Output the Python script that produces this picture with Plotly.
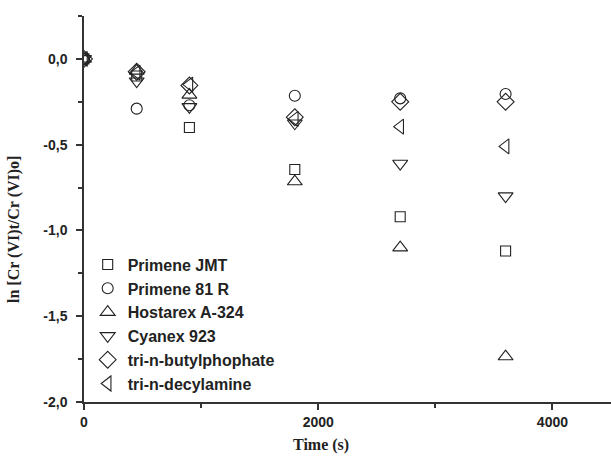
import plotly.graph_objects as go

time_s = [0, 450, 900, 1800, 2700, 3600]

series_names = ["Primene JMT", "Primene 81 R", "Hostarex A-324",
                "Cyanex 923", "tri-n-butylphophate", "tri-n-decylamine"]

primene_jmt = [0.0, -0.10, -0.40, -0.645, -0.92, -1.12]
primene_81r = [0.0, -0.29, -0.27, -0.215, -0.23, -0.205]
hostarex = [0.0, -0.07, -0.21, -0.715, -1.10, -1.735]
cyanex = [0.0, -0.13, -0.28, -0.375, -0.61, -0.80]
tbp = [0.0, -0.075, -0.155, -0.34, -0.25, -0.25]
tda = [0.0, -0.08, -0.15, -0.35, -0.395, -0.51]

series_values = [primene_jmt, primene_81r, hostarex, cyanex, tbp, tda]
symbols = ["square-open", "circle-open", "triangle-up-open",
           "triangle-down-open", "diamond-open", "triangle-left-open"]
sizes = [10, 11, 13, 13, 13, 13]

y_tickvals = [0.0, -0.5, -1.0, -1.5, -2.0]
y_ticktext = ["0,0", "-0,5", "-1,0", "-1,5", "-2,0"]
x_tickvals = [0, 2000, 4000]
x_ticktext = ["0", "2000", "4000"]

fig = go.Figure()
for name, vals, sym, sz in zip(series_names, series_values, symbols, sizes):
    fig.add_trace(go.Scatter(
        x=time_s, y=vals, mode="markers", name=name,
        marker=dict(symbol=sym, size=sz, color="#222222",
                    line=dict(width=1.1, color="#222222")),
    ))

axis_common = dict(
    showline=True, linecolor="#333333", linewidth=1.5,
    showgrid=False, zeroline=False, ticks="outside", ticklen=6,
    tickwidth=1.5, tickcolor="#333333", automargin=False,
    tickfont=dict(family="Liberation Sans, Arial, sans-serif", size=14,
                  color="#222222", weight="bold"),
)

fig.update_layout(
    width=611, height=461,
    margin=dict(l=84, r=0, t=16, b=59),
    paper_bgcolor="white", plot_bgcolor="white",
    showlegend=True,
    legend=dict(
        x=0.007, y=0.40, xanchor="left", yanchor="top",
        bgcolor="rgba(0,0,0,0)",
        font=dict(family="Liberation Sans, Arial, sans-serif", size=16,
                  color="#222222", weight="bold"),
        itemsizing="trace",
    ),
    xaxis=dict(range=[0, 4500], tickvals=x_tickvals, ticktext=x_ticktext,
               minor=dict(tickvals=[1000, 3000], ticks="outside", ticklen=4,
                          tickwidth=1.5, tickcolor="#333333"),
               **axis_common),
    yaxis=dict(range=[-2.0, 0.25], tickvals=y_tickvals, ticktext=y_ticktext,
               minor=dict(tickvals=[0.25, -0.25, -0.75, -1.25, -1.75],
                          ticks="outside", ticklen=4, tickwidth=1.5,
                          tickcolor="#333333"),
               ticklabelstandoff=6,
               **axis_common),
    annotations=[
        dict(text="<b>Time (s)</b>", xref="paper", yref="paper",
             x=0.45, y=-0.111, xanchor="center", yanchor="middle",
             showarrow=False,
             font=dict(family="Liberation Serif, Times New Roman, serif",
                       size=16, color="#222222")),
        dict(text="<b>ln [Cr (VI)t/Cr (VI)o]</b>", xref="paper", yref="paper",
             x=-0.133, y=0.448, xanchor="center", yanchor="middle",
             textangle=-90, showarrow=False,
             font=dict(family="Liberation Serif, Times New Roman, serif",
                       size=16, color="#222222")),
    ],
)

fig.write_html("out.html",
               config={"displayModeBar": False},
               post_script="document.body.style.margin='0';document.body.style.overflow='hidden';")
